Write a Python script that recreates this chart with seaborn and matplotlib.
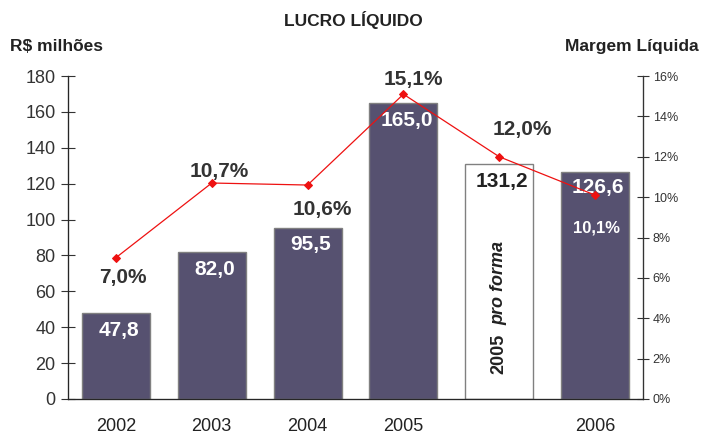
import matplotlib.pyplot as plt
import seaborn as sns
import numpy as np
import pandas as pd
from matplotlib.ticker import FixedLocator

anos = ["2002", "2003", "2004", "2005", "2005 pro forma", "2006"]
rotulos_x = ["2002", "2003", "2004", "2005", "", "2006"]
lucro = [47.8, 82.0, 95.5, 165.0, 131.2, 126.6]
margem = [7.0, 10.7, 10.6, 15.1, 12.0, 10.1]
cores = ["#524c75", "#524c75", "#524c75", "#524c75", "#ffffff", "#524c75"]

sns.set_style("white")
plt.rcParams["font.family"] = ["Liberation Sans", "DejaVu Sans"]

df = pd.DataFrame({"ano": anos, "lucro": lucro})

fig = plt.figure(figsize=(7.06, 4.37), dpi=100)
ax = fig.add_axes([0.0963, 0.087, 0.8145, 0.739])

sns.barplot(data=df, x="ano", y="lucro", hue="ano", palette=cores, legend=False,
            width=0.71, edgecolor="#808080", linewidth=1.0, ax=ax)
ax.set_ylim(0, 180)
ax.set_xlim(-0.5, 5.5)
ax.set_yticks(np.arange(0, 181, 20))
ax.tick_params(axis="y", labelsize=13, direction="inout", length=10, width=0.8,
               colors="#333333", pad=4)
ax.set_xticks(range(6))
ax.set_xticklabels(rotulos_x, fontsize=13, color="#222222")
ax.tick_params(axis="x", which="major", length=0, pad=14)
ax.xaxis.set_minor_locator(FixedLocator([0.5, 1.5, 2.5, 3.5, 4.5]))
ax.tick_params(axis="x", which="minor", direction="inout", length=9, width=0.8, color="#555555")
ax.set_xlabel("")
ax.set_ylabel("")
ax.spines["top"].set_visible(False)
for s in ["left", "bottom", "right"]:
    ax.spines[s].set_color("#333333")
    ax.spines[s].set_linewidth(0.9)

# margem liquida no eixo direito
ax2 = ax.twinx()
sns.lineplot(x=np.arange(6), y=margem, ax=ax2, color="#ee1111", marker="D",
             markersize=4, markeredgecolor="#ee1111", linewidth=0.9)
ax2.set_ylim(0, 16)
ax2.set_yticks(np.arange(0, 17, 2))
ax2.set_yticklabels([f"{v}%" for v in range(0, 17, 2)])
ax2.tick_params(axis="y", labelsize=9, direction="inout", length=8, width=0.8,
                colors="#333333", pad=3)
ax2.spines["top"].set_visible(False)
ax2.spines["right"].set_color("#333333")
ax2.set_ylabel("")

px = 0.72  # pontos por pixel

# valores das barras (deslocamento em pixels abaixo do topo)
desc_barra = [17, 18, 17, 18, 18, 16]
for i, v in enumerate(lucro):
    cor = "#222222" if i == 4 else "white"
    ax.annotate(f"{v:.1f}".replace(".", ","), (i, v), xytext=(3 * px, -desc_barra[i] * px),
                textcoords="offset points", ha="center", va="center",
                fontsize=15, fontweight="bold", color=cor)

# valores da margem (deslocamento em pixels)
desloc = [(7, 20), (8, -12), (15, 24), (10, -15), (23, -27), (1, 33)]
for i, v in enumerate(margem):
    dx, dy = desloc[i]
    cor = "white" if i == 5 else "#333333"
    tam = 12 if i == 5 else 15
    ax2.annotate(f"{v:.1f}%".replace(".", ","), (i, v), xytext=(dx * px, -dy * px),
                 textcoords="offset points", ha="center", va="center",
                 fontsize=tam, fontweight="bold", color=cor)

ax.text(4, 25.4, "2005", rotation=90, ha="center", va="center", fontsize=13,
        fontweight="bold", color="#222222")
ax.text(4, 64.9, "pro forma", rotation=90, ha="center", va="center", fontsize=13,
        fontweight="bold", style="italic", color="#222222")

fig.text(0.5, 0.955, "LUCRO LÍQUIDO", ha="center", va="center", fontsize=12.5,
         fontweight="bold", color="#222222")
fig.text(0.014, 0.893, "R$ milhões", ha="left", va="center", fontsize=12.5,
         fontweight="bold", color="#222222")
fig.text(0.99, 0.893, "Margem Líquida", ha="right", va="center", fontsize=12.5,
         fontweight="bold", color="#222222")

fig.savefig("out.png", dpi=100)
